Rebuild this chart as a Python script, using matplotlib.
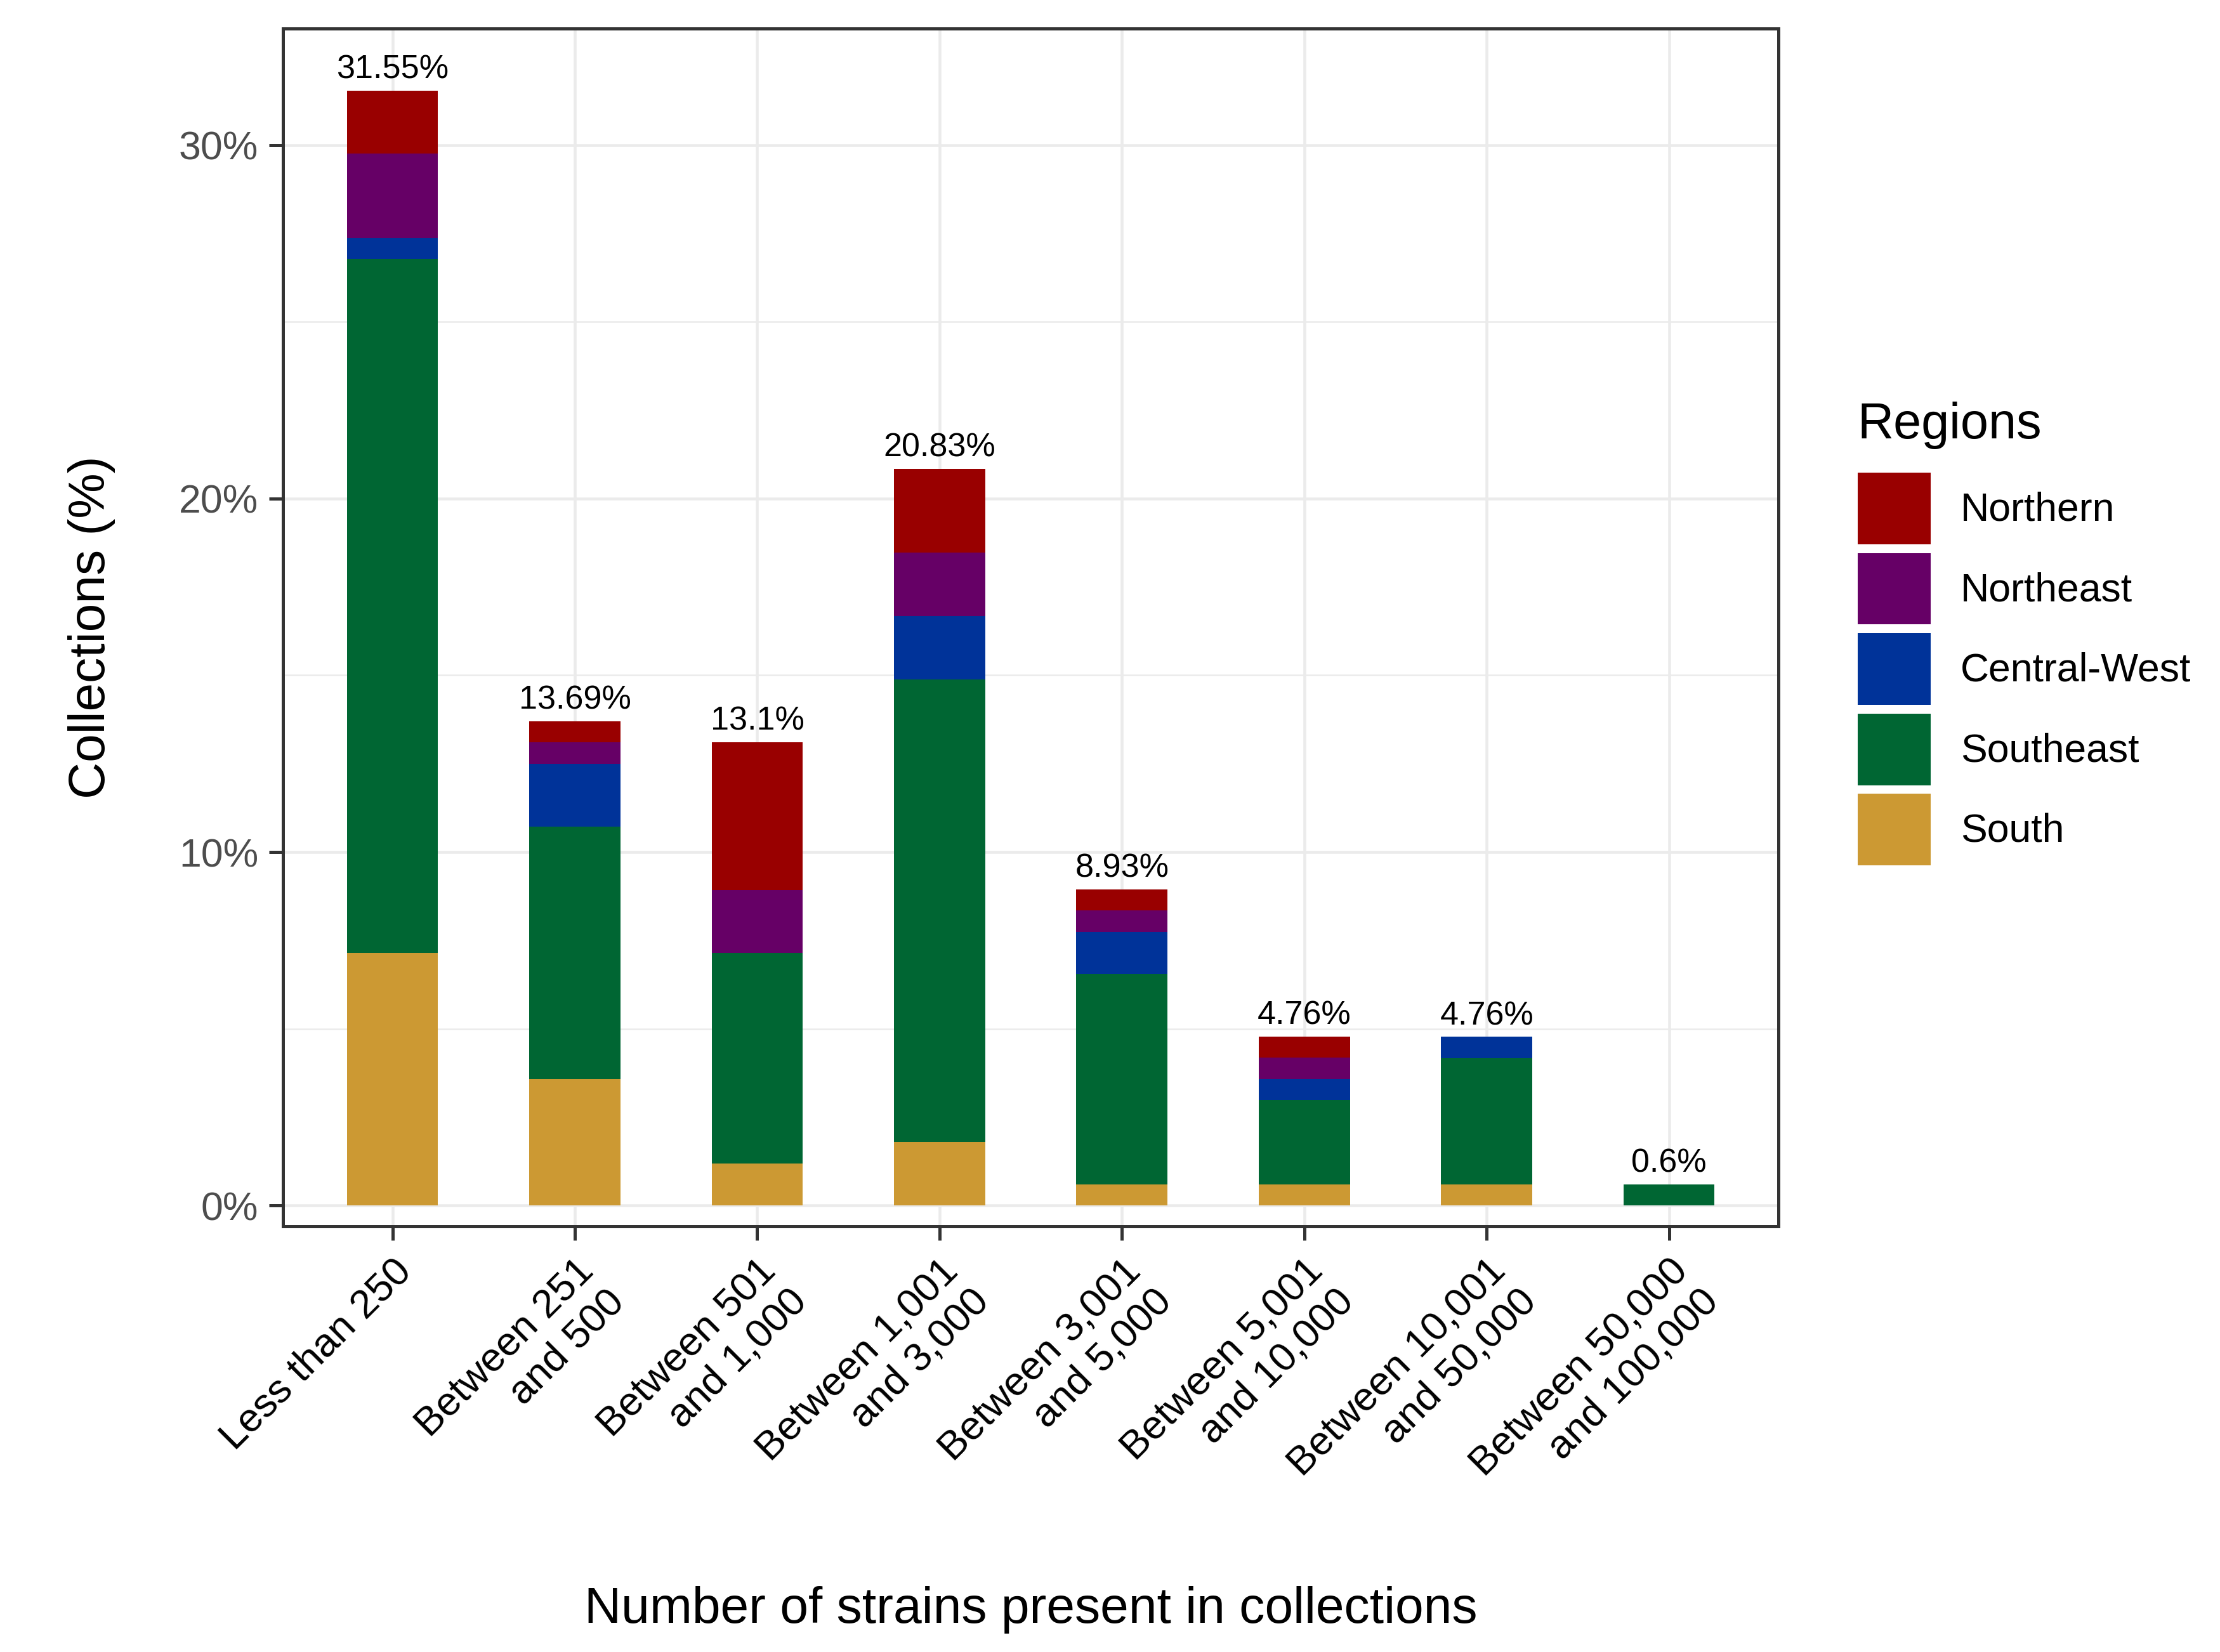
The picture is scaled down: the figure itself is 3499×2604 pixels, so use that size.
import numpy as np
import matplotlib
matplotlib.use("Agg")
import matplotlib.pyplot as plt
from matplotlib.patches import Patch

plt.rcParams['font.family'] = ['Liberation Sans', 'DejaVu Sans']

categories = ["Less than 250", "Between 251\nand 500", "Between 501\nand 1,000",
              "Between 1,001\nand 3,000", "Between 3,001\nand 5,000",
              "Between 5,001\nand 10,000", "Between 10,001\nand 50,000",
              "Between 50,000\nand 100,000"]

# percent of collections, stacked bottom -> top
south = [7.14, 3.57, 1.19, 1.79, 0.60, 0.60, 0.60, 0.00]
southeast = [19.64, 7.14, 5.95, 13.10, 5.95, 2.38, 3.57, 0.60]
central_west = [0.60, 1.79, 0.00, 1.79, 1.19, 0.60, 0.60, 0.00]
northeast = [2.38, 0.60, 1.79, 1.79, 0.60, 0.60, 0.00, 0.00]
northern = [1.79, 0.60, 4.17, 2.38, 0.60, 0.60, 0.00, 0.00]
totals = ["31.55%", "13.69%", "13.1%", "20.83%", "8.93%", "4.76%", "4.76%", "0.6%"]

regions = ["Northern", "Northeast", "Central-West", "Southeast", "South"]
colors = {"Northern": "#990000", "Northeast": "#660066", "Central-West": "#003399",
          "Southeast": "#006633", "South": "#CC9933"}

fig = plt.figure(figsize=(3499 / 300, 2604 / 300), dpi=300)
ax = fig.add_axes([0.1275, 0.2577, 0.8011 - 0.1275, 0.9827 - 0.2577])

x = np.arange(1, len(categories) + 1)
bottom = np.zeros(len(categories))
stack = [("South", south), ("Southeast", southeast), ("Central-West", central_west),
         ("Northeast", northeast), ("Northern", northern)]
for name, vals in stack:
    vals = np.array(vals)
    ax.bar(x, vals, 0.5, bottom=bottom, color=colors[name], linewidth=0, zorder=3)
    bottom += vals

for xi, top, lab in zip(x, bottom, totals):
    ax.annotate(lab, (xi, top), xytext=(0, 2), textcoords="offset points",
                ha="center", va="bottom", fontsize=12.5, color="black", zorder=4)

ax.set_xlim(0.4, 8.6)
ax.set_ylim(-0.59, 33.3)
ax.set_yticks([0, 10, 20, 30])
ax.set_yticklabels(["0%", "10%", "20%", "30%"])
ax.set_yticks([5, 15, 25], minor=True)
ax.set_xticks(x)
ax.set_xticklabels(categories, rotation=45, ha="right", rotation_mode="anchor",
                   multialignment="right")

ax.grid(which="major", color="#EBEBEB", linewidth=1.1, zorder=0)
ax.grid(which="minor", axis="y", color="#EBEBEB", linewidth=0.6, zorder=0)
ax.set_axisbelow(True)
for sp in ax.spines.values():
    sp.set_color("#333333")
    sp.set_linewidth(1.2)
ax.tick_params(axis="both", which="major", length=5.3, width=1.2, color="#333333")
ax.tick_params(axis="y", which="minor", length=0)
ax.tick_params(axis="y", labelsize=15, labelcolor="#4D4D4D", pad=4)
ax.tick_params(axis="x", labelsize=15.2, labelcolor="black", pad=4.5)

ax.set_ylabel("Collections (%)", fontsize=19.3, labelpad=24)
ax.set_xlabel("Number of strains present in collections", fontsize=19.3, labelpad=27)

# legend: title drawn separately so the gap to the keys can be set
fig.text(2928 / 3499, 1 - 691 / 2604, "Regions", fontsize=19, ha="left", va="baseline")
handles = [Patch(facecolor=colors[r], edgecolor="none", label=r) for r in regions]
leg = fig.legend(handles=handles, loc="upper left",
                 bbox_to_anchor=(2928 / 3499, 1 - 745 / 2604), frameon=False,
                 fontsize=15, handlelength=1.84, handleheight=2.4,
                 labelspacing=0.22, handletextpad=0.75, borderpad=0,
                 borderaxespad=0)

fig.savefig("out.png", dpi=300)
